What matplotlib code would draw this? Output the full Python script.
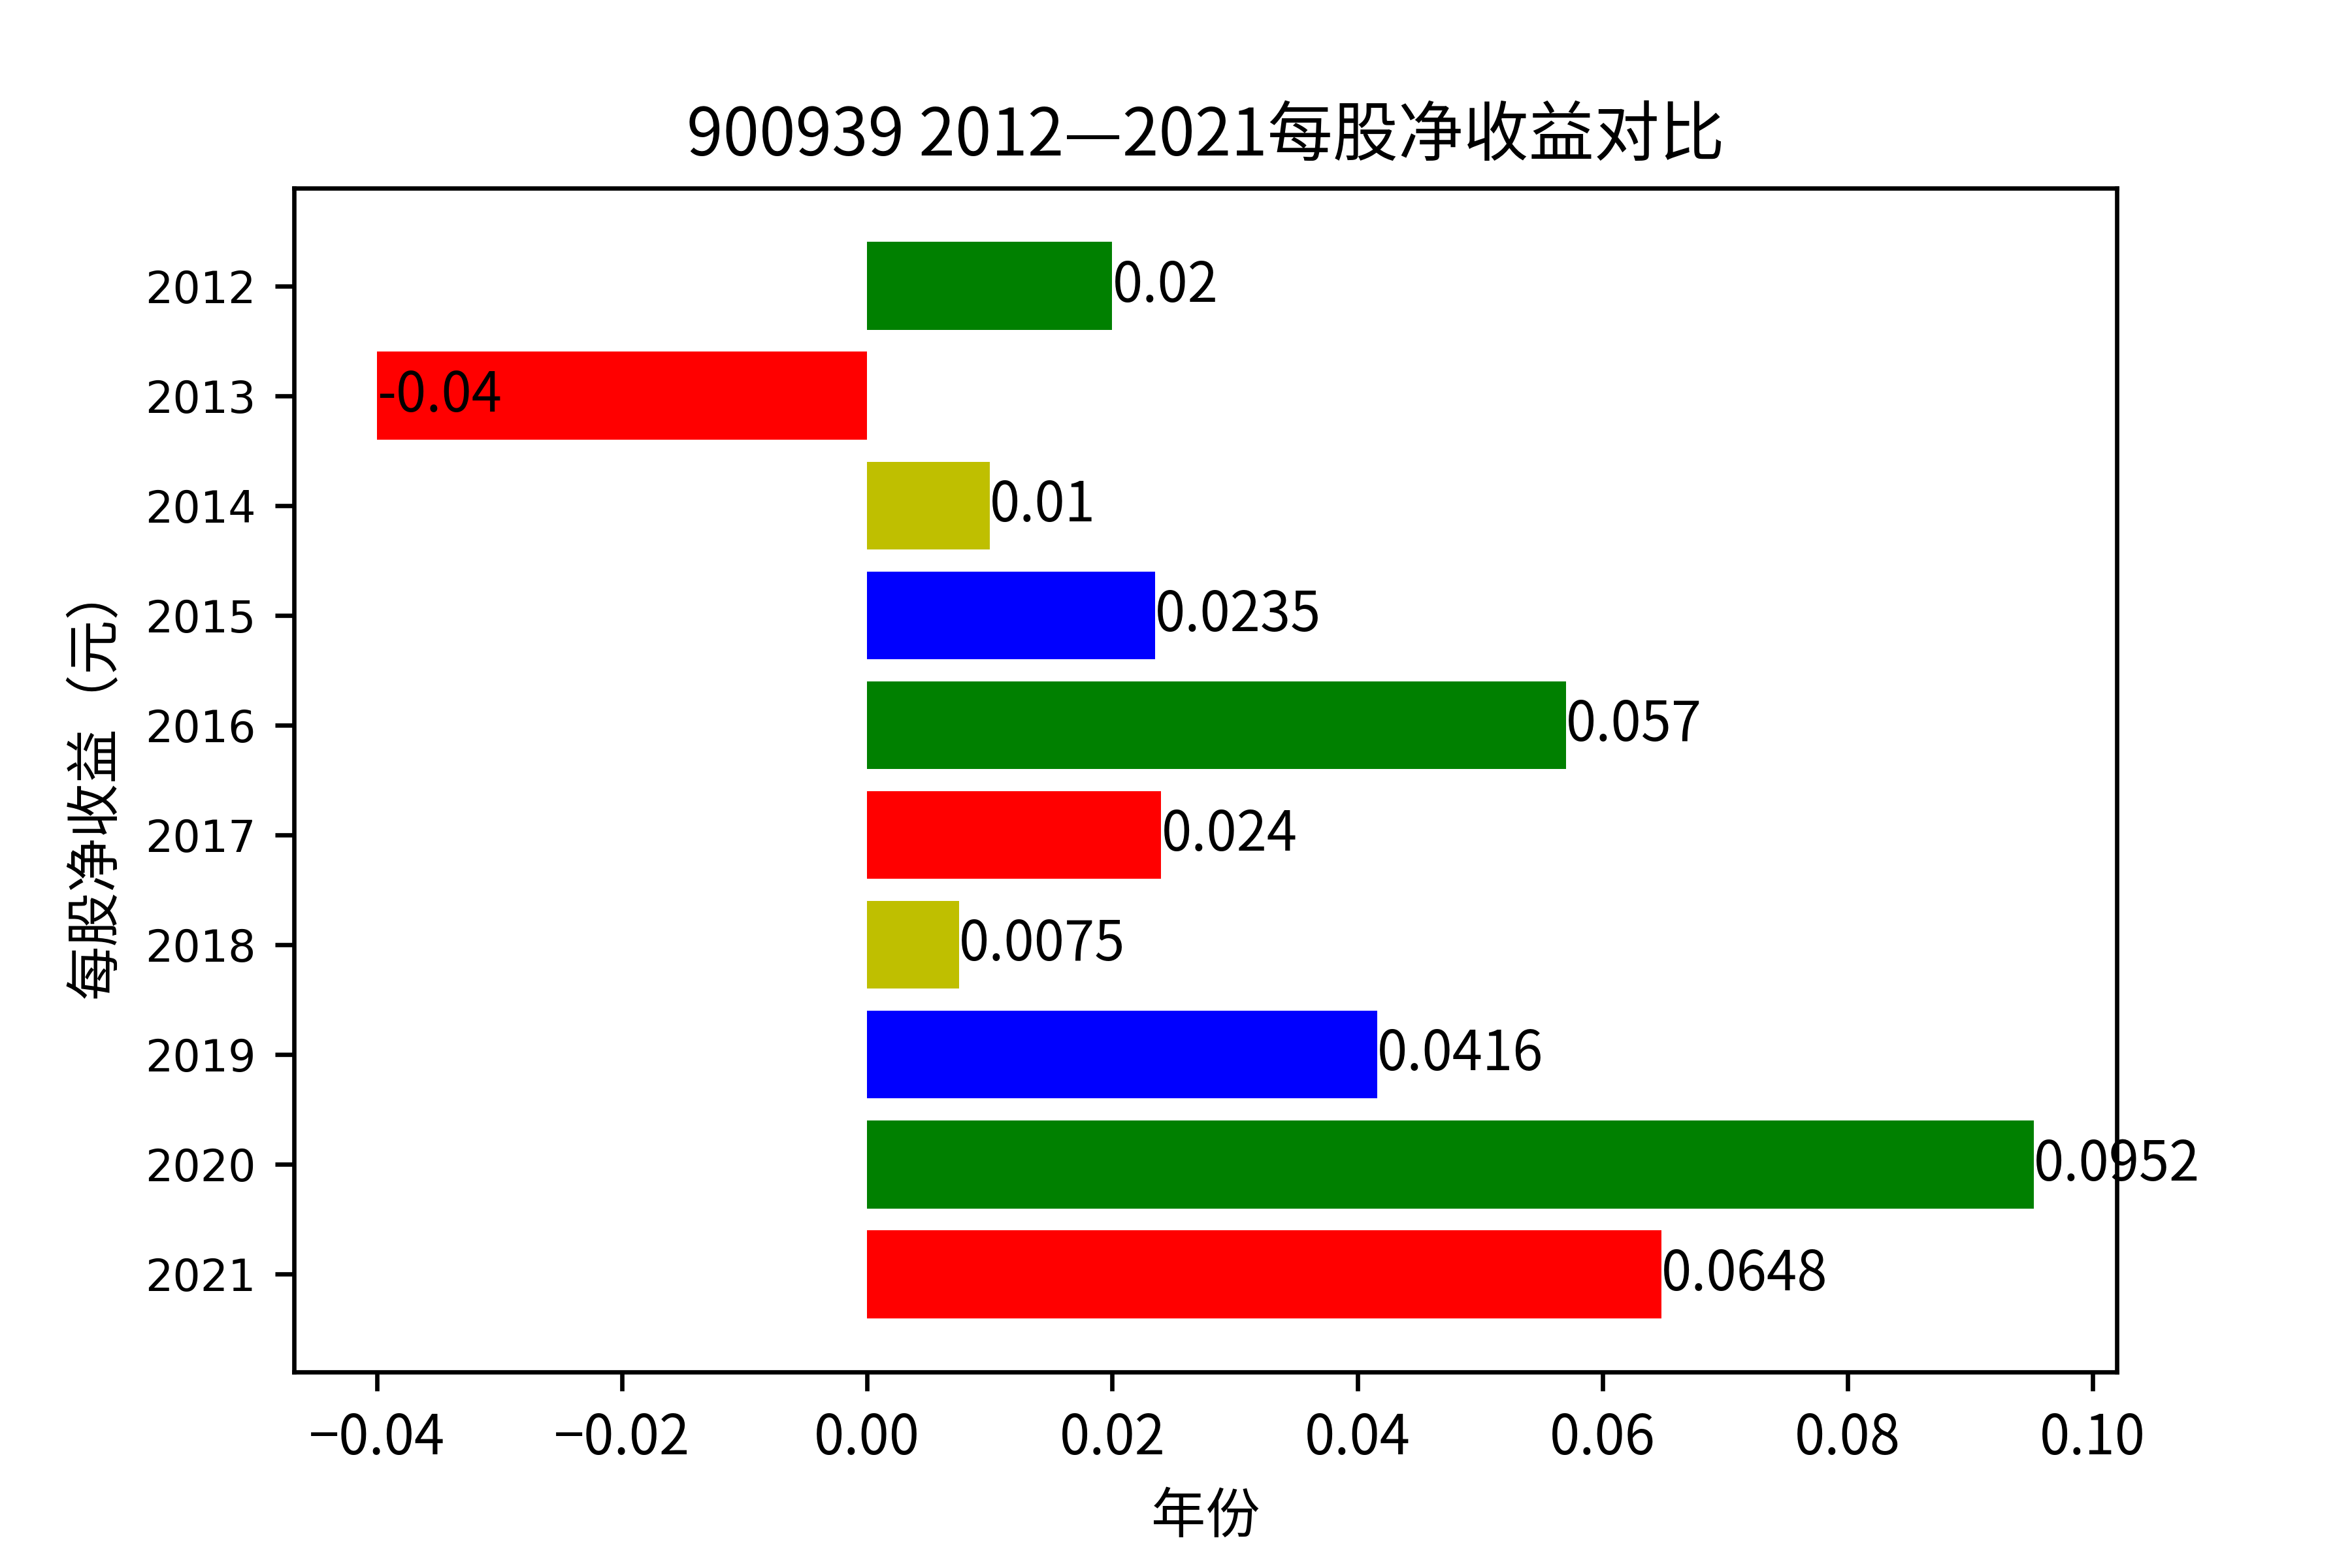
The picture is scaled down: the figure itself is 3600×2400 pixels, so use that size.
import matplotlib
matplotlib.use('Agg')
import matplotlib.pyplot as plt

plt.rcParams['font.family'] = ['Noto Sans CJK SC', 'DejaVu Sans']
plt.rcParams['axes.unicode_minus'] = True

years = ['2012', '2013', '2014', '2015', '2016', '2017', '2018', '2019', '2020', '2021']
eps = [0.02, -0.04, 0.01, 0.0235, 0.057, 0.024, 0.0075, 0.0416, 0.0952, 0.0648]
bar_colors = ['g', 'r', 'y', 'b', 'g', 'r', 'y', 'b', 'g', 'r']

fig = plt.figure(figsize=(6, 4), dpi=600)
ax = fig.add_subplot(111)
fig.subplots_adjust(left=0.125, right=0.9, bottom=0.125, top=0.88)

ypos = range(len(years))
ax.barh(ypos, eps, color=bar_colors)
for i, v in enumerate(eps):
    ax.text(v, i, str(v), va='center', ha='left', fontsize=10)

ax.set_yticks(list(ypos))
ax.set_yticklabels(years, family='DejaVu Sans', fontsize=8)
ax.invert_yaxis()

ax.set_title('900939 2012—2021每股净收益对比', fontsize=12)
ax.set_xlabel('年份')
ax.set_ylabel('每股净收益（元）')

fig.savefig('out.png', dpi=600)
